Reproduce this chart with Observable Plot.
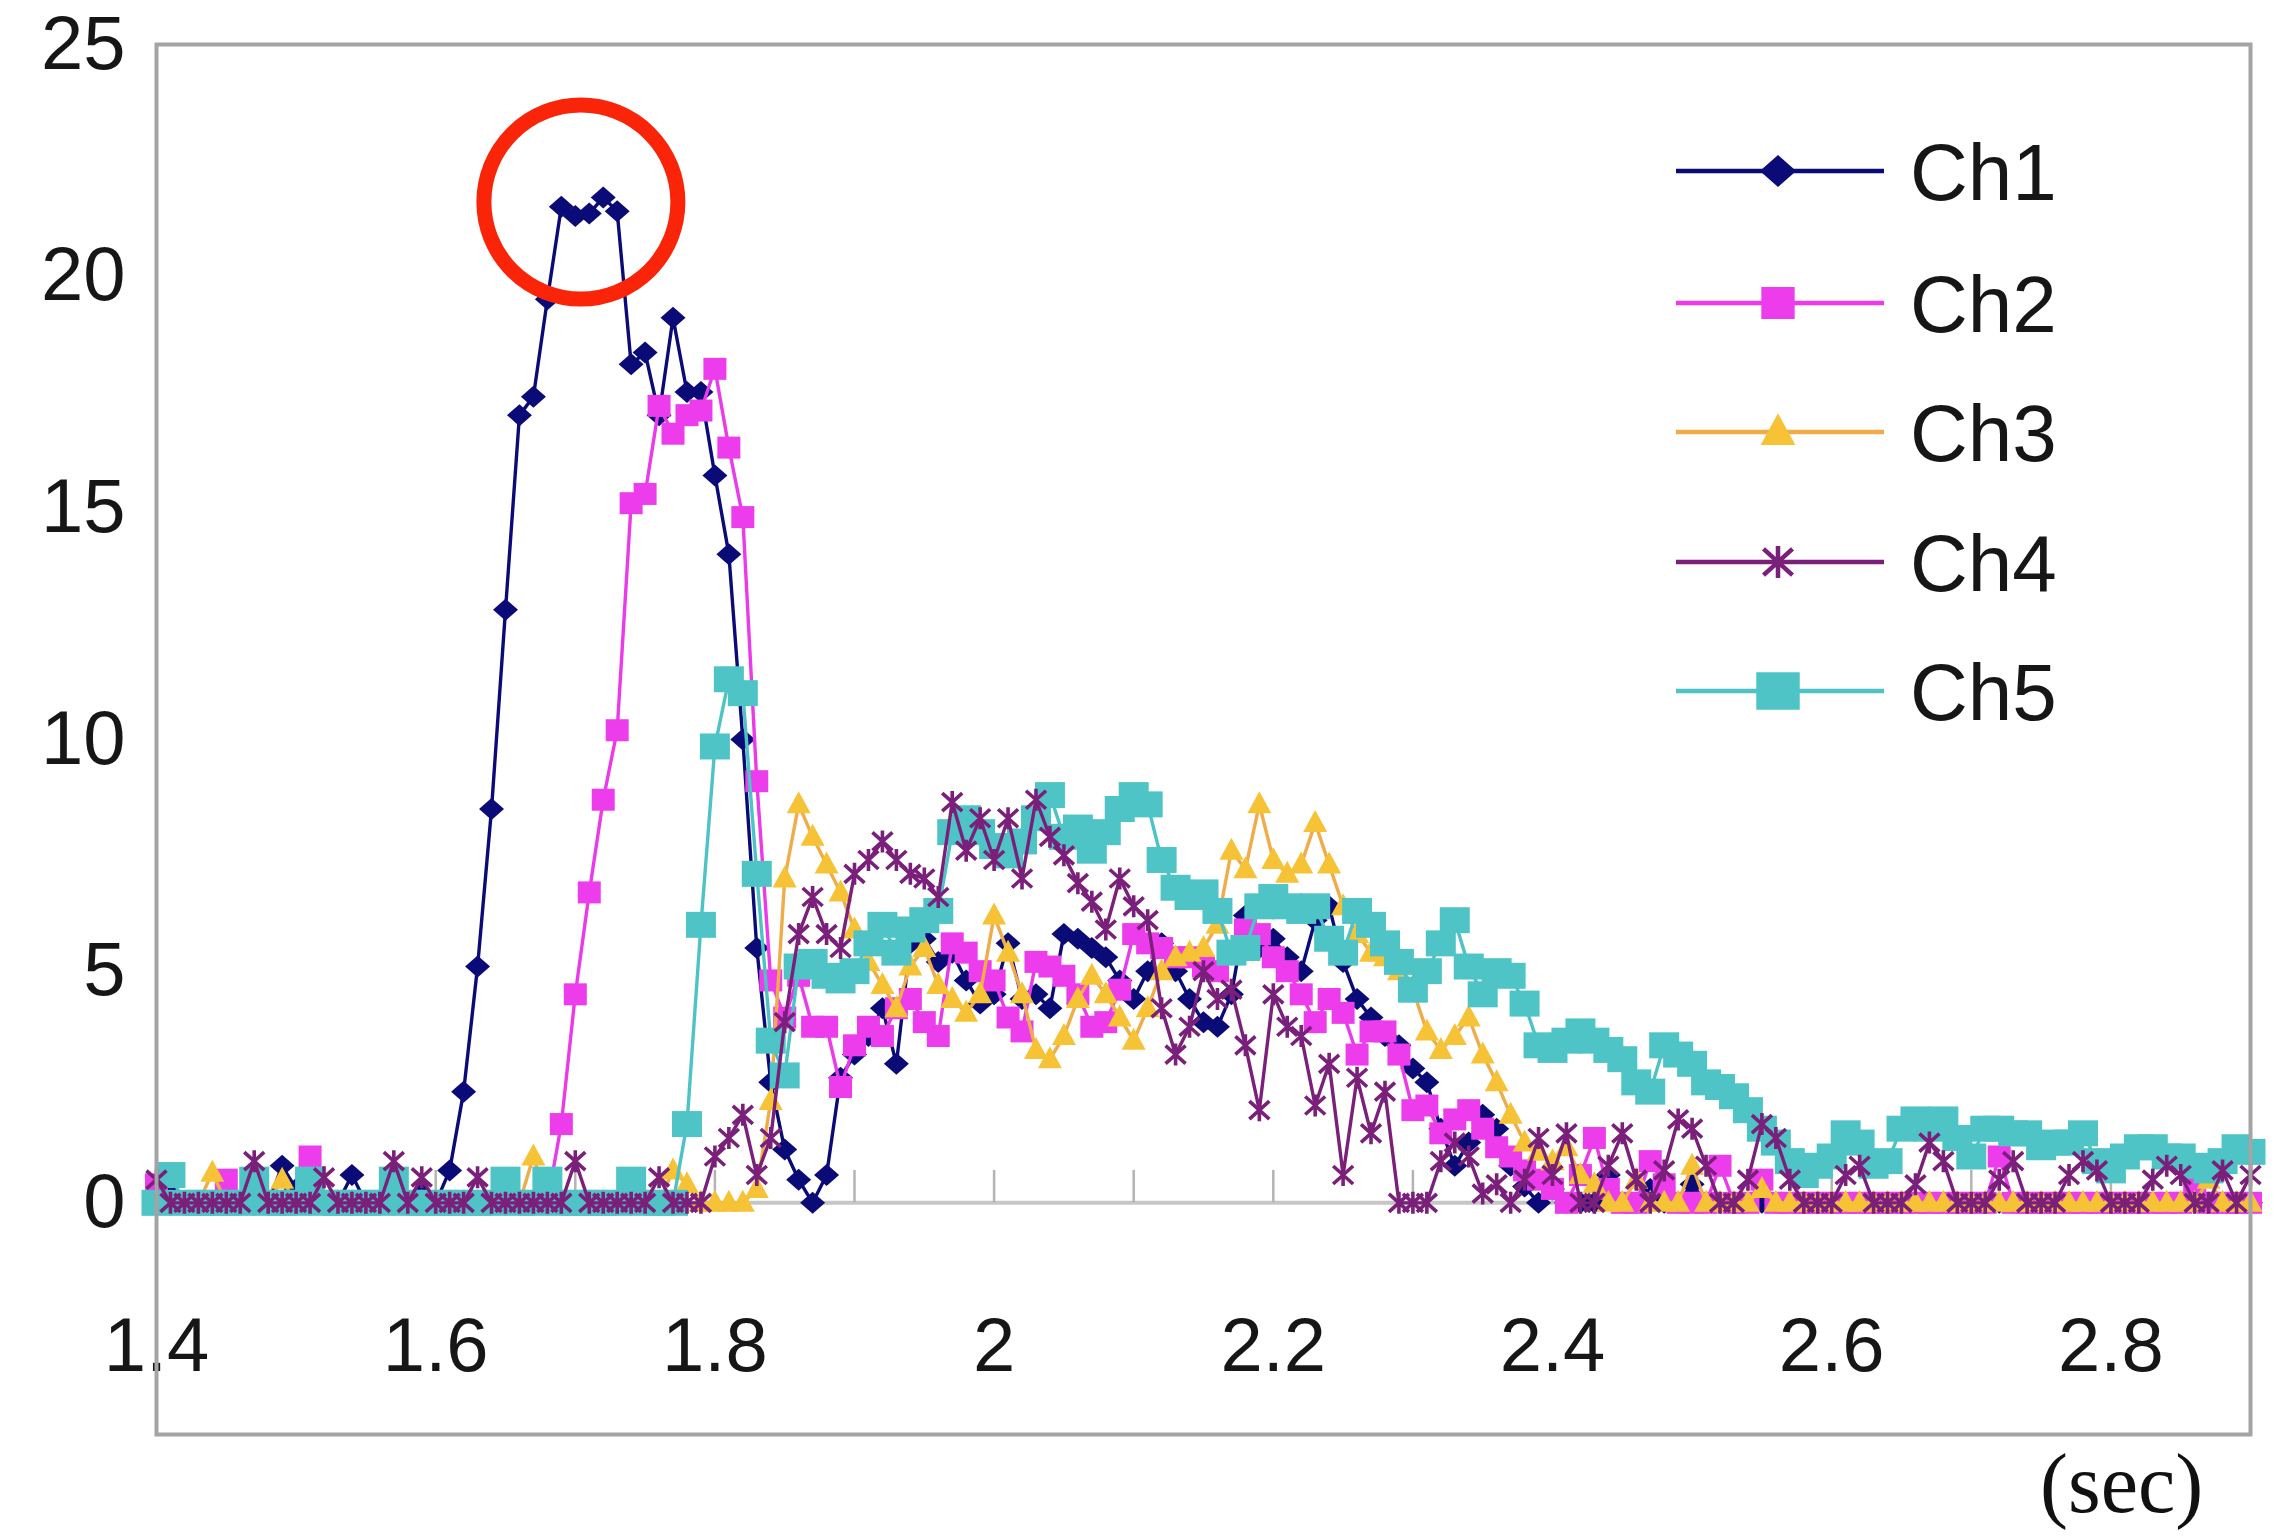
<!DOCTYPE html>
<html><head><meta charset="utf-8">
<script src="https://cdn.jsdelivr.net/npm/d3@7"></script>
<script src="https://cdn.jsdelivr.net/npm/@observablehq/plot@0.6"></script>
<style>
html,body{margin:0;padding:0;background:#fff;}
#wrap{position:relative;width:2295px;height:1536px;overflow:hidden;background:#fff;}
#chart{position:absolute;left:0;top:0;}
#unit{position:absolute;left:2040px;top:1442px;font-family:"Liberation Serif","Times New Roman",serif;font-size:84px;line-height:1;color:#111;}
</style></head><body>
<div id="wrap"><div id="chart"></div><div id="unit">(sec)</div></div>
<script>
// ---- data (samples every 0.01 s from 1.40 s to 2.90 s) ----
const seriesNames = ["Ch1", "Ch2", "Ch3", "Ch4", "Ch5"];
const drawOrder = ["Ch1", "Ch2", "Ch3", "Ch5", "Ch4"];
const xTicks = [1.4, 1.6, 1.8, 2.0, 2.2, 2.4, 2.6, 2.8];
const xTickLabels = ["1.4", "1.6", "1.8", "2", "2.2", "2.4", "2.6", "2.8"];
const xMinorTicks = [1.5, 1.6, 1.7, 1.8, 1.9, 2.0, 2.1, 2.2, 2.3, 2.4, 2.5, 2.6, 2.7, 2.8];
const yTicks = [0, 5, 10, 15, 20, 25];
// annotated peak (red circle)
const highlight = [{ t: 1.704, v: 21.6 }];

const ch1 = [
  0,0.4,0,0,0,0,0,0,0,0.8,
  0.3,0,0,0,0.6,0,0,0,0,0.2,
  0,0.7,2.4,5.1,8.5,12.8,17.0,17.4,19.5,21.5,
  21.3,21.35,21.7,21.4,18.1,18.35,17.0,19.1,17.5,17.5,
  15.7,14.0,10.0,5.5,2.6,1.15,0.5,0,0.6,2.7,
  3.2,3.6,4.2,3.0,5.6,5.7,5.2,5.4,4.8,4.3,
  4.5,5.6,4.4,4.5,4.2,5.8,5.7,5.5,5.3,4.8,
  4.4,5.0,5.6,5.0,4.4,3.9,3.8,4.5,6.2,5.5,
  5.7,5.3,5.0,6.1,6.4,5.2,4.4,4.0,3.6,3.4,
  2.9,2.6,1.6,0.8,1.3,1.9,1.6,0.8,0.35,0,
  0.3,0,0,0,0.6,0,0,0.3,0,0,
  0.4,0,0,0,0,0,0,0,0,0,
  0,0,0,0,0,0,0,0,0,0,
  0,0,0,0,0,0,0,0,0,0,
  0,0,0,0,0,0,0,0,0,0,
  0
];
const ch2 = [
  0.4,0,0,0,0,0.5,0,0,0,0,
  0,1.0,0,0,0,0,0,0,0,0,
  0,0,0,0,0,0,0,0,0,1.7,
  4.5,6.7,8.7,10.2,15.1,15.3,17.2,16.6,17.0,17.1,
  18.0,16.3,14.8,9.1,4.8,4.0,4.9,3.8,3.8,2.5,
  3.4,3.8,3.6,4.2,4.4,3.9,3.6,5.6,5.4,5.0,
  4.8,4.0,3.7,5.2,5.1,4.9,4.5,3.8,3.9,4.6,
  5.8,5.6,5.5,5.3,5.3,5.1,5.0,5.4,5.9,5.8,
  5.3,5.0,4.5,3.9,4.4,4.1,3.2,3.7,3.7,3.2,
  2.0,2.1,1.5,1.8,2.0,1.6,1.2,1.0,0.7,0.5,
  0.3,0,0.6,1.4,0.3,0,0,0.9,0.4,0,
  0,0,0.8,0,0,0.5,0,0,0,0,
  0,0,0,0,0,0,0,0,0,0,
  0,0,1.0,0,0,0,0,0,0,0,
  0,0,0,0,0,0,0.4,0,0,0,
  0
];
const ch3 = [
  0,0,0,0,0.65,0,0,0,0,0.5,
  0,0,0,0,0,0,0,0,0,0,
  0,0,0,0,0,0,0,1.0,0,0,
  0,0,0,0,0,0,0,0.7,0.4,0,
  0,0,0,0.3,2.2,7.0,8.6,7.9,7.3,6.7,
  5.9,5.2,4.7,4.2,5.1,5.5,4.7,4.4,4.1,4.5,
  6.2,5.4,4.5,3.3,3.1,3.6,4.4,4.9,4.5,4.0,
  3.5,4.2,5.0,5.3,5.4,5.5,6.0,7.6,7.2,8.6,
  7.4,7.1,7.3,8.2,7.3,6.4,5.8,5.4,5.3,5.0,
  4.6,3.7,3.3,3.6,4.0,3.2,2.6,1.9,1.3,1.1,
  0.9,1.2,0.6,0.4,0,0,0.5,0,0,0,
  0.8,0,0,0,0,0.3,0,0,0,0,
  0,0,0,0,0,0,0,0,0,0,
  0,0,0,0,0,0,0,0,0,0,
  0,0,0,0,0,0,0,0.5,0,0,
  0
];
const ch4 = [
  0.5,0,0,0,0,0,0,0.9,0,0,
  0,0,0.55,0,0,0,0,0.9,0,0.55,
  0,0,0,0.55,0,0,0,0,0,0,
  0.9,0,0,0,0,0,0.55,0,0,0,
  1.0,1.4,1.9,0.6,1.4,3.9,5.8,6.6,5.8,5.5,
  7.1,7.4,7.8,7.4,7.1,7.0,6.6,8.65,7.6,8.3,
  7.4,8.3,7.0,8.7,7.9,7.5,6.9,6.5,5.9,7.0,
  6.4,6.1,4.2,3.2,3.8,5.0,4.4,4.6,3.4,2.0,
  4.5,3.8,3.6,2.1,3.0,0.6,2.7,1.5,2.4,0,
  0,0,0.9,1.3,1.0,0.2,0.4,0,0.5,1.4,
  0.6,1.5,0,0,0.8,1.5,0.5,0,0.7,1.8,
  1.6,0.8,0,0,0.5,1.7,1.4,0.5,0,0,
  0,0.6,0.8,0,0,0,0.4,1.3,0.9,0,
  0,0,0.5,0.9,0,0,0,0.6,0.9,0.7,
  0,0,0,0.5,0.8,0.6,0,0,0.7,0,
  0.6
];
const ch5 = [
  0,0.6,0,0,0,0,0,0.5,0,0,
  0,0.5,0,0,0,0,0,0.5,0,0,
  0,0,0,0,0,0.5,0,0,0.5,0,
  0,0,0,0,0.5,0,0,0,1.7,6.0,
  9.85,11.3,11.0,7.1,3.5,2.75,5.1,5.2,4.9,4.8,
  5.0,5.6,6.0,5.4,5.9,6.1,6.3,8.0,8.3,8.0,
  7.7,7.5,7.8,8.3,8.8,7.9,8.1,7.6,8.0,8.5,
  8.8,8.6,7.4,6.8,6.6,6.7,6.3,5.4,5.5,6.4,
  6.6,6.4,6.3,6.4,5.7,5.4,6.3,6.0,5.6,5.2,
  4.6,5.0,5.6,6.1,5.1,4.5,5.0,4.9,4.3,3.4,
  3.3,3.5,3.7,3.5,3.3,3.1,2.6,2.4,3.4,3.2,
  3.0,2.6,2.5,2.3,2.0,1.6,1.3,0.9,0.6,0.8,
  1.0,1.5,1.3,0.8,0.9,1.6,1.8,1.6,1.8,1.4,
  1.0,1.6,1.6,1.5,1.5,1.2,1.3,1.3,1.5,0.9,
  0.7,1.0,1.2,1.2,1.0,1.0,0.8,0.7,0.9,1.2,
  1.1
];
const times = ch1.map((_, i) => Math.round((1.40 + 0.01 * i) * 100) / 100);

// ---- marker symbols ----
function sym(draw) { return { draw(ctx, size) { draw(ctx, Math.sqrt(size / Math.PI)); } }; }
const diamondSym = sym((c, k) => { c.moveTo(0, -11 * k); c.lineTo(12.5 * k, 0); c.lineTo(0, 11 * k); c.lineTo(-12.5 * k, 0); c.closePath(); });
const squareSmall = sym((c, k) => { c.moveTo(-11.5 * k, -11 * k); c.lineTo(11.5 * k, -11 * k); c.lineTo(11.5 * k, 11 * k); c.lineTo(-11.5 * k, 11 * k); c.closePath(); });
const triangleSym = sym((c, k) => { c.moveTo(0, -13 * k); c.lineTo(12 * k, 9 * k); c.lineTo(-12 * k, 9 * k); c.closePath(); });
const asteriskSym = sym((c, k) => { c.moveTo(-10 * k, -9 * k); c.lineTo(10 * k, 9 * k); c.moveTo(10 * k, -9 * k); c.lineTo(-10 * k, 9 * k); c.moveTo(0, -11 * k); c.lineTo(0, 11 * k); });
const squareBig = sym((c, k) => { c.moveTo(-15 * k, -13 * k); c.lineTo(15 * k, -13 * k); c.lineTo(15 * k, 13 * k); c.lineTo(-15 * k, 13 * k); c.closePath(); });

const styles = {
  Ch1: { values: ch1, line: "#0b0b78", fill: "#0b0b78", stroke: "none", sw: 0, symbol: diamondSym },
  Ch2: { values: ch2, line: "#ea3aea", fill: "#ec3cec", stroke: "none", sw: 0, symbol: squareSmall },
  Ch3: { values: ch3, line: "#efac48", fill: "#f6c336", stroke: "none", sw: 0, symbol: triangleSym },
  Ch4: { values: ch4, line: "#7a1f7a", fill: "none", stroke: "#7a1f7a", sw: 3.6, symbol: asteriskSym },
  Ch5: { values: ch5, line: "#4ec3c5", fill: "#4fc4c6", stroke: "none", sw: 0, symbol: squareBig }
};

const seriesMarks = [];
for (const name of drawOrder) {
  const s = styles[name];
  const rows = s.values.map((v, i) => ({ t: times[i], v }));
  seriesMarks.push(Plot.line(rows, { x: "t", y: "v", stroke: s.line, strokeWidth: 3.4 }));
  seriesMarks.push(Plot.dot(rows, { x: "t", y: "v", r: 1, symbol: s.symbol, fill: s.fill, stroke: s.stroke, strokeWidth: s.sw }));
}

const W = 2295, H = 1536;
const chart = Plot.plot({
  width: W, height: H,
  marginLeft: 156, marginRight: 45, marginTop: 44, marginBottom: 102,
  style: { fontFamily: "'Liberation Sans', Arial, sans-serif", background: "#fff", color: "#161616" },
  x: { domain: [1.4, 2.9] },
  y: { domain: [-5, 25] },
  marks: [
    Plot.ruleY([0], { stroke: "#c6c6c6", strokeWidth: 4 }),
    Plot.ruleX(xMinorTicks, { x: d => d, y1: 0, y2: 0.7, stroke: "#b4b4b4", strokeWidth: 2.5 }),
    Plot.axisY({ ticks: yTicks, tickSize: 0, tickPadding: 31, fontSize: 76, label: null, fill: "#161616" }),
    Plot.axisX({ ticks: xTicks, tickSize: 0, tickPadding: 0, dy: -117, fontSize: 76, label: null, fill: "#161616",
      tickFormat: d => xTickLabels[xTicks.findIndex(t => Math.abs(t - d) < 1e-9)] }),
    ...seriesMarks,
    Plot.dot(highlight, { x: "t", y: "v", r: 97, fill: "none", stroke: "#fa2408", strokeWidth: 15 }),
    Plot.frame({ stroke: "#a4a4a4", strokeWidth: 4 })
  ]
});
document.getElementById("chart").appendChild(chart);

// ---- legend (drawn into the same SVG) ----
const svg = d3.select(chart);
const lg = svg.append("g").attr("class", "legend");
const legendY = [171, 303, 432, 562, 691];
const legendSymbolScale = 1.45;
seriesNames.forEach((name, i) => {
  const s = styles[name];
  const y = legendY[i];
  lg.append("line").attr("x1", 1676).attr("x2", 1884).attr("y1", y).attr("y2", y)
    .attr("stroke", s.line).attr("stroke-width", 4.5);
  const p = d3.path();
  s.symbol.draw(p, Math.PI * legendSymbolScale * legendSymbolScale);
  lg.append("path").attr("d", p.toString()).attr("transform", `translate(1778,${y})`)
    .attr("fill", s.fill).attr("stroke", s.stroke === "none" ? "none" : s.stroke)
    .attr("stroke-width", s.sw ? 4.5 : 0);
  lg.append("text").attr("x", 1910).attr("y", y).attr("dy", "0.36em")
    .attr("text-anchor", "start")
    .attr("font-family", "'Liberation Sans', Arial, sans-serif").attr("font-size", 80)
    .attr("fill", "#161616").text(name);
});
</script>
</body></html>
